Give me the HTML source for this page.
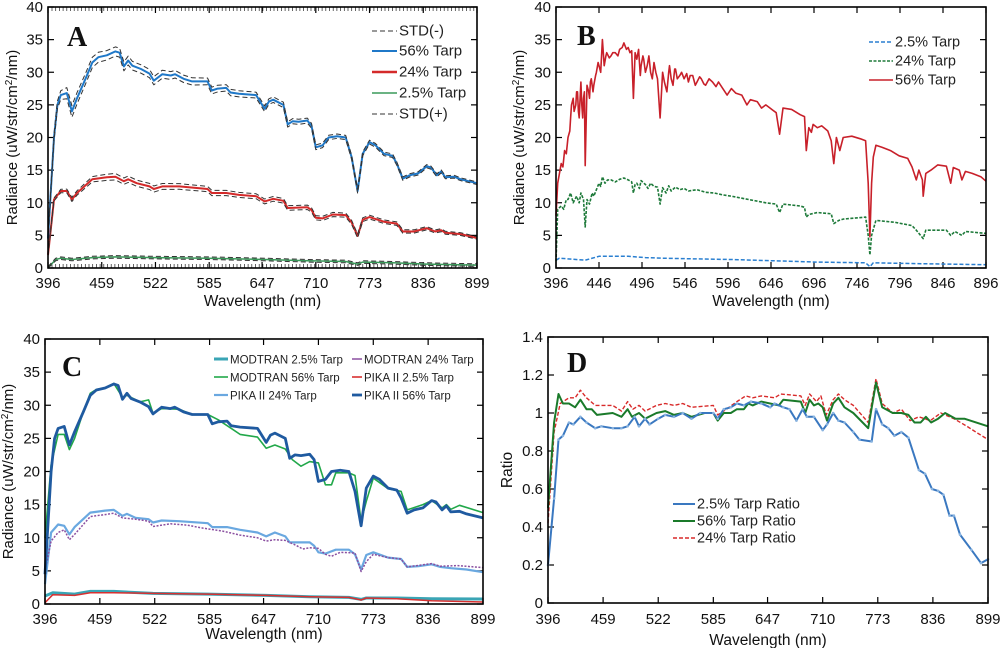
<!DOCTYPE html>
<html><head><meta charset="utf-8"><style>
body{margin:0;background:#fff;}
svg{display:block;font-family:"Liberation Sans",sans-serif;}
</style></head><body>
<svg id="fig" width="1000" height="648" viewBox="0 0 1000 648"></svg>
<script>
// ---------- Panel A data ----------
const aTicksX = [396,459,522,585,647,710,773,836,899];
const aTicksY = [0,5,10,15,20,25,30,35,40];
const a56 = [[396,4.5],[403,20],[407,25],[411,26.5],[418,26.8],[424,24],[430,26],[440,29],[448,31.5],[455,32.3],[465,32.6],[475,33.2],[480,33],[485,30.9],[490,31.8],[495,31],[505,30.5],[515,29.8],[520,28.7],[530,29.7],[540,29.5],[545,29.7],[555,29],[565,28.6],[583,28.6],[588,27.2],[595,27.5],[605,27.6],[610,26.9],[620,26.7],[640,26.5],[650,24.4],[655,25.5],[660,25.8],[672,25],[677,22],[683,22.5],[690,22.4],[700,22.6],[705,21.8],[710,18.5],[718,18.8],[725,20],[735,20.2],[745,20],[752,17],[759,11.8],[765,17.5],[773,19.3],[780,18.8],[790,17.5],[800,17.2],[805,16],[812,13.7],[820,14.2],[830,14.5],[840,15.6],[845,15.4],[852,14.2],[857,14.8],[862,13.9],[872,14],[880,13.6],[899,13]];
const a24 = [[396,2],[403,10.5],[411,11.8],[418,11.8],[424,10.5],[430,11.5],[448,13.6],[465,13.9],[475,14],[485,13.3],[490,13.6],[500,13],[515,12.5],[520,12.1],[530,12.5],[550,12.5],[583,12.1],[588,11.5],[605,11.5],[620,11.2],[640,11],[650,10.2],[660,10.6],[672,10.3],[677,9.2],[700,9.3],[705,8.9],[710,7.7],[718,7.6],[730,8.2],[745,8.1],[752,7],[759,4.9],[765,7.4],[773,7.8],[790,7.1],[805,6.8],[812,5.6],[825,5.6],[840,6.1],[850,5.6],[857,5.8],[862,5.4],[880,5.2],[899,4.6]];
const a2 = [[396,0],[405,1.3],[411,1.5],[424,1.3],[448,1.6],[475,1.7],[520,1.6],[583,1.5],[650,1.3],[700,1.1],[745,1.0],[759,0.6],[765,0.9],[800,0.8],[840,0.6],[899,0.45]];
const aStd56 = [[396,0.3],[420,0.9],[470,0.7],[600,0.5],[760,0.3],[899,0.2]];
const aStd24 = [[396,0.2],[470,0.5],[600,0.4],[760,0.3],[899,0.2]];
const aStd2 = [[396,0.2],[899,0.2]];

// ---------- Panel B data ----------
const bTicksX = [396,446,496,546,596,646,696,746,796,846,896];
const bTicksY = [0,5,10,15,20,25,30,35,40];
const b56 = [[396,8],[398,13],[402,16],[404,15.5],[406,18],[408,17.5],[410,20],[412,21],[413,23],[414,25],[416,26],[417,24],[419,25],[420,27],[421,27],[422,24],[423,23],[424,26],[425,28.5],[426,25],[427,23],[428,26],[429,27],[430,15.7],[432,28],[434,27],[435,26],[436,28.5],[437,29],[439,27],[440,28],[442,29.5],[443,30],[445,31.5],[446,31],[448,30],[450,35],[452,31],[454,32.5],[455,33],[458,32.2],[460,32.5],[462,33],[465,33],[468,32.5],[470,33.5],[473,33.8],[475,34.5],[478,33.5],[480,33.8],[482,33],[484,33.3],[486,26],[488,33],[490,32],[492,33.5],[494,29.5],[495,31],[497,32.5],[498,32],[500,30],[502,31],[504,32.5],[506,30],[508,29],[510,31.5],[512,30],[514,29],[517,23],[520,30],[522,28.5],[525,27],[527,30],[528,31],[530,29],[532,28],[534,30.5],[535,30.5],[537,29],[540,29.5],[542,30],[545,29],[548,29.8],[550,28.5],[552,29.5],[555,29.5],[558,28],[560,28.5],[563,29.3],[565,29],[568,28.2],[570,28],[574,29],[578,28.5],[582,27.8],[585,28.5],[590,27.5],[595,26.5],[600,27.5],[605,26.8],[612,26.5],[618,25],[622,25.8],[630,25.5],[635,24.5],[640,25],[645,24.5],[648,24.2],[652,23.8],[656,20.5],[660,24.5],[670,24.3],[680,23.5],[685,23.2],[687,18],[690,21.5],[693,20.8],[695,22],[700,21.5],[705,21.8],[712,21],[716,19.5],[719,16],[722,20],[726,18],[730,20],[740,20.2],[750,19.8],[756,19.5],[759,13],[761,4.8],[763,13],[765,17],[768,18.8],[775,18.5],[785,18],[795,17.2],[805,16.8],[810,15.5],[815,13.5],[818,15],[822,13.5],[823,11],[826,14.5],[832,15],[840,15.8],[850,15.6],[855,13],[858,15.4],[865,15],[868,13.5],[872,14.8],[880,14.5],[890,14],[896,13.3]];
const b24 = [[396,1],[398,9],[402,9.5],[405,9],[408,10.5],[410,10.5],[413,11.5],[416,10],[420,11],[423,10],[425,11.5],[428,10.5],[430,6.3],[432,10.5],[435,9.8],[438,11.5],[440,11],[443,12],[446,13],[448,12.5],[450,14],[453,13],[456,13.5],[460,13.5],[465,13.2],[470,13.6],[475,13.8],[480,13.5],[484,13.2],[486,11.5],[488,12.8],[490,13],[493,12.2],[495,13.4],[500,12.8],[503,12.2],[506,13],[510,12.5],[514,12.4],[517,9.8],[520,12.3],[524,11.5],[527,12.6],[530,11.8],[535,12.4],[540,12],[545,12.2],[550,11.8],[560,12],[570,11.6],[580,11.5],[590,11.2],[600,11],[620,10.5],[640,10],[652,9.8],[656,8.5],[660,9.8],[680,9.5],[685,9.3],[687,7.8],[690,8.2],[700,8.5],[716,8.3],[719,6.8],[725,7.3],[730,7.5],[756,7.8],[759,5],[761,2],[763,5],[768,7.3],[790,7],[810,6.5],[815,5.8],[823,4.5],[826,5.8],[850,5.8],[855,5],[860,5.6],[868,5],[872,5.6],[896,5.3]];
const b2 = [[396,1.2],[400,1.5],[430,1.2],[446,1.8],[480,1.8],[500,1.6],[520,1.5],[560,1.4],[600,1.3],[650,1.1],[700,0.9],[756,0.8],[761,0.2],[765,0.8],[800,0.7],[850,0.6],[896,0.5]];

// ---------- Panel C data ----------
const cTicksX = [396,459,522,585,647,710,773,836,899];
const cTicksY = [0,5,10,15,20,25,30,35,40];
const cPika56 = a56;
const cMod56 = [[396,10],[403,21],[411,25.6],[418,25.6],[424,23.3],[430,25],[440,29],[448,31.8],[455,32.4],[465,32.6],[475,33.3],[485,31.2],[490,31.5],[505,30.5],[515,30.8],[520,28.8],[530,29.5],[550,29.4],[565,28.6],[583,28.6],[595,27.8],[610,26.5],[620,25.6],[640,25.2],[650,23.5],[660,24],[672,23.4],[680,21.8],[690,20.8],[700,21.5],[710,21.3],[718,18],[725,18],[730,19.8],[745,19.8],[752,19.4],[759,12.5],[765,15.5],[773,19],[790,17.4],[805,17],[812,14.2],[830,15],[840,15.6],[852,14.5],[857,15],[862,14.3],[872,14.9],[899,13.8]];
const cPika24 = [[396,3],[403,10.8],[411,12],[418,11.8],[424,10.5],[430,11.6],[448,13.8],[465,14.1],[475,14.2],[485,13.3],[490,13.6],[500,13],[515,12.8],[520,12.3],[530,12.6],[550,12.5],[583,12.2],[588,11.6],[605,11.6],[620,11.2],[640,10.8],[650,10.2],[660,10.8],[672,10.2],[677,9.3],[700,9.3],[705,8.8],[710,7.8],[718,7.6],[730,8.2],[745,8.2],[752,7.5],[759,5.2],[765,7.4],[773,7.8],[790,7],[805,6.8],[812,5.6],[825,5.7],[840,6],[850,5.6],[862,5.4],[880,5.2],[899,4.8]];
const cMod24 = [[396,5],[403,9.5],[411,10.8],[418,11.2],[424,9.7],[430,10.5],[448,13.2],[465,13.5],[475,13.7],[485,13],[500,12.8],[515,12.5],[520,11.7],[540,12.1],[560,11.9],[575,11.5],[600,11],[620,10.4],[640,10],[650,9.5],[660,9.7],[672,9.6],[685,8.8],[692,8.3],[700,8.5],[710,8.4],[718,7.5],[725,7.2],[735,7.8],[752,7.7],[759,4.9],[765,6.4],[773,7.5],[790,7],[805,6.8],[812,5.6],[840,6.1],[850,5.7],[870,5.8],[899,5.5]];
const cMod2 = [[396,1.2],[405,1.7],[430,1.5],[448,1.9],[475,1.9],[520,1.6],[583,1.5],[650,1.3],[700,1.1],[745,1.0],[759,0.7],[765,0.9],[800,0.9],[840,0.8],[899,0.75]];
const cPika2 = [[396,0.2],[405,1.4],[430,1.3],[448,1.7],[475,1.7],[520,1.6],[583,1.5],[650,1.3],[700,1.1],[745,1.0],[759,0.6],[765,0.9],[800,0.8],[840,0.5],[899,0.3]];

// ---------- Panel D data ----------
const dTicksX = [396,459,522,585,647,710,773,836,899];
const dTicksY = [0,0.2,0.4,0.6,0.8,1,1.2,1.4];
const d2 = [[396,0.2],[403,0.55],[408,0.86],[413,0.88],[420,0.95],[425,0.94],[433,0.98],[440,0.95],[450,0.92],[457,0.93],[470,0.92],[480,0.92],[487,0.93],[495,0.98],[500,0.93],[507,0.97],[512,0.94],[522,0.97],[530,0.99],[540,0.98],[550,1.0],[560,0.97],[570,1.0],[585,1.0],[590,0.97],[597,1.02],[605,1.03],[612,1.05],[620,1.04],[628,1.06],[640,1.05],[650,1.03],[655,1.05],[665,1.03],[672,1.02],[680,0.96],[687,1.02],[692,0.98],[700,0.98],[710,0.91],[715,0.94],[722,1.0],[728,0.96],[735,0.95],[745,0.9],[752,0.86],[766,0.85],[771,1.02],[778,0.94],[785,0.92],[792,0.88],[800,0.9],[808,0.87],[820,0.7],[827,0.68],[835,0.6],[842,0.59],[848,0.57],[855,0.46],[860,0.46],[867,0.36],[880,0.28],[891,0.21],[899,0.23]];
const d56 = [[396,0.5],[403,0.95],[408,1.1],[413,1.05],[420,1.05],[427,1.03],[433,1.07],[440,1.02],[446,1.02],[452,0.99],[470,1.0],[480,0.98],[487,1.02],[492,0.98],[500,1.0],[507,0.97],[520,1.0],[530,1.01],[540,0.99],[550,1.0],[560,0.98],[575,1.0],[585,1.0],[590,0.96],[597,1.0],[605,1.0],[612,1.02],[620,1.02],[625,1.05],[630,1.04],[640,1.06],[660,1.04],[665,1.07],[685,1.06],[690,1.0],[695,1.07],[700,1.04],[705,1.05],[710,1.03],[715,0.96],[722,1.05],[728,1.08],[735,1.03],[745,1.0],[762,0.92],[771,1.16],[778,1.03],[790,1.0],[800,1.0],[808,0.99],[815,0.95],[822,0.95],[828,0.98],[834,0.95],[842,0.97],[850,1.0],[862,0.97],[872,0.97],[899,0.93]];
const d24 = [[396,0.42],[403,0.9],[410,1.05],[420,1.08],[427,1.08],[433,1.12],[440,1.08],[450,1.04],[470,1.04],[480,1.01],[487,1.06],[493,1.02],[500,1.04],[507,1.01],[520,1.04],[530,1.05],[540,1.04],[550,1.05],[560,1.03],[585,1.04],[590,0.99],[600,1.02],[612,1.06],[622,1.09],[630,1.08],[640,1.09],[655,1.08],[662,1.1],[685,1.09],[690,1.04],[695,1.1],[703,1.06],[708,1.09],[714,0.99],[722,1.07],[728,1.1],[735,1.07],[745,1.04],[762,0.95],[771,1.18],[778,1.05],[790,1.0],[800,1.02],[810,0.96],[820,0.98],[833,0.96],[845,1.0],[860,0.97],[875,0.93],[885,0.9],[899,0.86]];

const NS = 'http://www.w3.org/2000/svg';
const svg = document.getElementById('fig');
function mk(tag, attrs, parent){const e=document.createElementNS(NS,tag);for(const k in attrs)e.setAttribute(k,attrs[k]);(parent||svg).appendChild(e);return e;}
function interp(arr,x){for(let i=0;i<arr.length-1;i++){if(x<=arr[i+1][0]){const t=(x-arr[i][0])/(arr[i+1][0]-arr[i][0]);return arr[i][1]+t*(arr[i+1][1]-arr[i][1]);}}return arr[arr.length-1][1];}

function panel(p){
  const g = mk('g',{});
  
  
  const sx = v => p.L + (v-p.xmin)/(p.xmax-p.xmin)*(p.R-p.L);
  const sy = v => p.B - (v-p.ymin)/(p.ymax-p.ymin)*(p.B-p.T);
  p.sx=sx; p.sy=sy; p.g=g;
  if(p.minor){
    for(let x=p.L+4;x<p.R;x+=3.7){
      mk('line',{x1:x,x2:x,y1:p.T,y2:p.T+4,stroke:'#222','stroke-width':0.7},g);
      mk('line',{x1:x,x2:x,y1:p.B,y2:p.B-4,stroke:'#222','stroke-width':0.7},g);
    }
  }
  p.ticksX.forEach(v=>{
    const x=sx(v);
    mk('line',{x1:x,x2:x,y1:p.B,y2:p.B-6,stroke:'#000','stroke-width':1.2},g);
    mk('line',{x1:x,x2:x,y1:p.T,y2:p.T+6,stroke:'#000','stroke-width':1.2},g);
    const t=mk('text',{x:x,y:p.xLabY,'text-anchor':'middle','font-size':15,fill:'#111'},g);
    t.textContent=v;
    
    
  });
  p.ticksY.forEach(v=>{
    const y=sy(v);
    mk('line',{x1:p.L,x2:p.L+6,y1:y,y2:y,stroke:'#000','stroke-width':1.2},g);
    mk('line',{x1:p.R,x2:p.R-6,y1:y,y2:y,stroke:'#000','stroke-width':1.2},g);
    const t=mk('text',{x:p.L-5,y:y+5,'text-anchor':'end','font-size':15,fill:'#111'},g);
    t.textContent=v;
    
    
  });
  const xt=mk('text',{x:(p.L+p.R)/2,y:p.xTitleY,'text-anchor':'middle','font-size':15.5,fill:'#111'},g);
  xt.textContent='Wavelength (nm)';
  
  
  const yt=mk('text',{x:0,y:0,'text-anchor':'middle','font-size':p.yTitle==='Ratio'?15.5:15,fill:'#111',transform:`translate(${p.yTitleX},${(p.T+p.B)/2}) rotate(-90)`},g);
  if(p.yTitle==='Ratio'){yt.textContent='Ratio';}
  else{yt.innerHTML='Radiance (uW/str/cm<tspan dy="-5" font-size="10">2</tspan><tspan dy="5">/nm)</tspan>';}
  
  
  const lt=mk('text',{x:p.labX,y:p.labY,'font-size':28,'font-weight':'bold','font-family':'"Liberation Serif",serif',fill:'#111'},g);
  lt.textContent=p.id;
  
  
  return p;
}
function line(p,data,style,name,offArr,sign){
  const pts=data.map(d=>{let v=d[1];if(offArr)v+=sign*interp(offArr,d[0]);return p.sx(d[0]).toFixed(1)+','+p.sy(Math.max(v,p.ymin)).toFixed(1);}).join(' ');
  const e=mk('polyline',Object.assign({points:pts,fill:'none','stroke-linejoin':'round'},style),p.g);
  
  
  return e;
}
function frame(p){mk('rect',{x:p.L,y:p.T,width:p.R-p.L,height:p.B-p.T,fill:'none',stroke:'#000','stroke-width':1.6},p.g);}
function legend(p,x,y,style,label,len,fs){
  const e=mk('line',Object.assign({x1:x,x2:x+len,y1:y,y2:y},style),p.g);
  
  
  const t=mk('text',{x:x+len+2,y:y+4.5,'font-size':fs,fill:'#222'},p.g);
  t.textContent=label;
  
  
}

// Panel A
const A=panel({id:'A',L:48,R:477,T:7,B:268,xmin:396,xmax:899,ymin:0,ymax:40,ticksX:aTicksX,ticksY:aTicksY,xLabY:288,xTitleY:306,yTitleX:17,labX:67,labY:46,yTitle:'Radiance',minor:true});
const dash={stroke:'#333','stroke-width':1,'stroke-dasharray':'5,3'};
line(A,a2,{stroke:'#3a9a5a','stroke-width':1.5},'series-2.5-tarp');
line(A,a2,dash,'std-minus-2.5',aStd2,-1);line(A,a2,dash,'std-plus-2.5',aStd2,1);
line(A,a24,{stroke:'#d42a2a','stroke-width':2},'series-24-tarp');
line(A,a24,dash,'std-minus-24',aStd24,-1);line(A,a24,dash,'std-plus-24',aStd24,1);
line(A,a56,{stroke:'#1f78c8','stroke-width':2},'series-56-tarp');
line(A,a56,dash,'std-minus-56',aStd56,-1);line(A,a56,dash,'std-plus-56',aStd56,1);
frame(A);
legend(A,372,31,dash,'STD(-)',25,15);
legend(A,372,51,{stroke:'#1f78c8','stroke-width':2},'56% Tarp',25,15);
legend(A,372,72,{stroke:'#d42a2a','stroke-width':2.5},'24% Tarp',25,15);
legend(A,372,93,{stroke:'#3a9a5a','stroke-width':1.5},'2.5% Tarp',25,15);
legend(A,372,114,dash,'STD(+)',25,15);

// Panel B
const B=panel({id:'B',L:556,R:986,T:7,B:268,xmin:396,xmax:896,ymin:0,ymax:40,ticksX:bTicksX,ticksY:bTicksY,xLabY:288,xTitleY:306,yTitleX:524,labX:577,labY:45,yTitle:'Radiance'});
line(B,b2,{stroke:'#2a7fd0','stroke-width':1.5,'stroke-dasharray':'4,2'},'series-2.5-tarp');
line(B,b24,{stroke:'#1e7a3a','stroke-width':1.6,'stroke-dasharray':'3,1.5'},'series-24-tarp');
line(B,b56,{stroke:'#c8202a','stroke-width':1.6},'series-56-tarp');
frame(B);
legend(B,869,42,{stroke:'#2a7fd0','stroke-width':1.5,'stroke-dasharray':'4,2'},'2.5% Tarp',24,14.5);
legend(B,869,61,{stroke:'#1e7a3a','stroke-width':1.6,'stroke-dasharray':'3,1.5'},'24% Tarp',24,14.5);
legend(B,869,80,{stroke:'#c8202a','stroke-width':1.6},'56% Tarp',24,14.5);

// Panel C
const C=panel({id:'C',L:45,R:483,T:339,B:604,xmin:396,xmax:899,ymin:0,ymax:40,ticksX:cTicksX,ticksY:cTicksY,xLabY:624,xTitleY:639,yTitleX:13,labX:62,labY:376,yTitle:'Radiance'});
line(C,cMod2,{stroke:'#3aa5b5','stroke-width':3},'modtran-2.5');
line(C,cPika2,{stroke:'#d83030','stroke-width':1.5},'pika-2.5');
line(C,cPika24,{stroke:'#6aa8e0','stroke-width':2.2},'pika-24');
line(C,cMod24,{stroke:'#8a4fa0','stroke-width':1.5,'stroke-dasharray':'2,1.5'},'modtran-24');
line(C,cMod56,{stroke:'#22a84a','stroke-width':1.6},'modtran-56');
line(C,cPika56,{stroke:'#1f5aa0','stroke-width':2.8},'pika-56');
frame(C);
legend(C,214,359,{stroke:'#3aa5b5','stroke-width':3},'MODTRAN 2.5% Tarp',14,11.5);
legend(C,352,359,{stroke:'#8a4fa0','stroke-width':1.5},'MODTRAN 24% Tarp',10,11.5);
legend(C,214,377,{stroke:'#22a84a','stroke-width':1.6},'MODTRAN 56% Tarp',14,11.5);
legend(C,352,377,{stroke:'#d83030','stroke-width':1.6},'PIKA II 2.5% Tarp',10,11.5);
legend(C,214,395,{stroke:'#6aa8e0','stroke-width':2.2},'PIKA II 24% Tarp',14,11.5);
legend(C,352,395,{stroke:'#1f5aa0','stroke-width':2.8},'PIKA II 56% Tarp',10,11.5);

// Panel D
const D=panel({id:'D',L:548,R:988,T:337,B:603,xmin:396,xmax:899,ymin:0,ymax:1.4,ticksX:dTicksX,ticksY:dTicksY,xLabY:624,xTitleY:645,yTitleX:512,labX:567,labY:372,yTitle:'Ratio'});
line(D,d24,{stroke:'#d82a2a','stroke-width':1.4,'stroke-dasharray':'4,2'},'ratio-24');
line(D,d56,{stroke:'#1a7a2a','stroke-width':2},'ratio-56');
line(D,d2,{stroke:'#3a78c0','stroke-width':2},'ratio-2.5');
d2.forEach(d=>{const c=mk('circle',{cx:D.sx(d[0]),cy:D.sy(d[1]),r:1.3,fill:'#8ab4e0'},D.g);

});
frame(D);
legend(D,673,504,{stroke:'#3a78c0','stroke-width':2},'2.5% Tarp Ratio',22,14.5);
legend(D,673,521,{stroke:'#1a7a2a','stroke-width':2},'56% Tarp Ratio',22,14.5);
legend(D,673,538,{stroke:'#d82a2a','stroke-width':1.4,'stroke-dasharray':'4,2'},'24% Tarp Ratio',22,14.5);
</script>
</body></html>
